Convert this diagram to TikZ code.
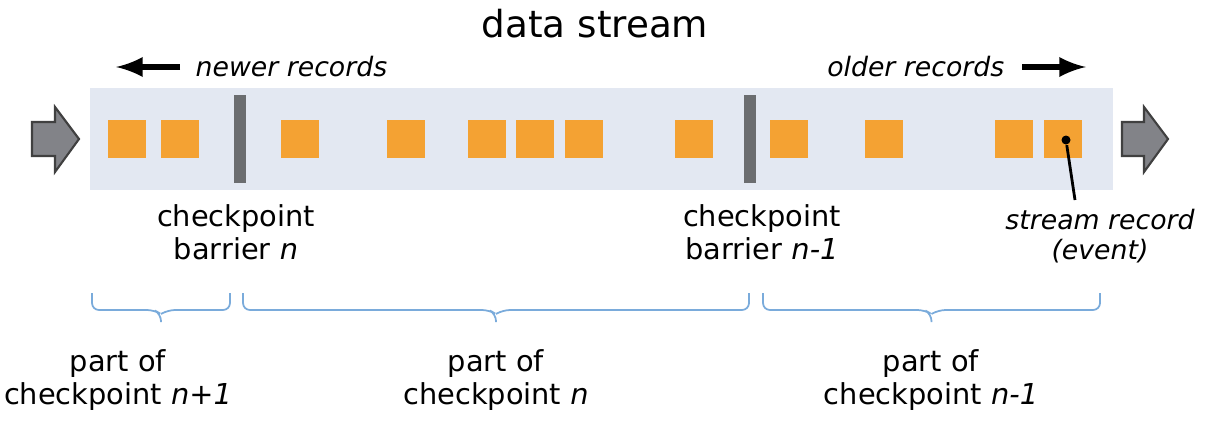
\documentclass[tikz,border=0pt]{standalone}
\usepackage{fontspec}
\setmainfont{DejaVu Sans}
\usetikzlibrary{positioning}
\usetikzlibrary{calc}
\definecolor{bandblue}{HTML}{E3E8F2}
\definecolor{recorange}{HTML}{F4A233}
\definecolor{bargray}{HTML}{6B6D70}
\definecolor{flowgray}{HTML}{828388}
\definecolor{bracecol}{HTML}{7AABDB}
\tikzset{rec/.style = {fill = recorange, inner sep = 0, minimum size = 0.38cm}}
\tikzset{barrier/.style = {fill = bargray, inner sep = 0, minimum width = 0.12cm, minimum height = 0.88cm}}
\tikzset{lbl/.style = {align = center, inner sep = 0, font = \fontsize{8.2}{9.3}\selectfont}}
\tikzset{ilbl/.style = {inner sep = 0, font = \fontsize{7.6}{9}\selectfont\itshape}}
\tikzset{flow/.style = {fill = flowgray, draw = black!75, line width = 0.6pt, line join = miter}}
\tikzset{part/.style = {draw = bracecol, line width = 0.5pt, rounded corners = 2pt}}
\def\drawpart(#1)(#2){%
    \coordinate (m) at ($(#1)!0.5!(#2)$);%
    \draw [part] (#1) -- ++(0, 17) -- ($(m) + (-7, 17)$) -- ($(m) + (0, 21)$) -- ($(m) + (0, 29)$);%
    \draw [part] (#2) -- ++(0, 17) -- ($(m) + (7, 17)$) -- ($(m) + (0, 21)$);%
}

\begin{document}
\begin{tikzpicture}[x = 0.01cm, y = -0.01cm]
    \useasboundingbox (0, 0) rectangle (1206, 421);
    \node [font = \fontsize{10.6}{12}\selectfont] (title) at (595, 24) {data stream};

    % direction of the stream
    \node [ilbl, anchor = west] (newer) at (195, 67) {newer records};
    \node [ilbl, anchor = east] (older) at (1005, 67) {older records};
    \draw [-latex, line width = 1.6pt] (newer.west) ++(-15, 0) -- ++(-64, 0);
    \draw [-latex, line width = 1.6pt] (older.east) ++(17, 0) -- ++(64, 0);

    \fill [bandblue] (90, 88) rectangle (1113, 190);
    \draw [flow] (32, 122) -- (55, 122) -- (55, 107) -- (79, 139)
        -- (55, 172) -- (55, 156) -- (32, 156) -- cycle;
    \draw [flow] (1122, 122) -- (1144, 122) -- (1144, 107) -- (1168, 139)
        -- (1144, 172) -- (1144, 156) -- (1122, 156) -- cycle;

    % records
    \foreach \x [count = \i] in {127, 180, 300, 406, 487, 535, 584, 694, 789, 884, 1014, 1063}
        \node [rec] (r\i) at (\x, 139) {};
    \node [barrier] (barn) at (240, 139) {};
    \node [barrier] (barnm) at (750, 139) {};

    \node [circle, fill, inner sep = 0, minimum size = 0.09cm] (dot) at (1066, 140) {};
    \node [ilbl, align = center, font = \fontsize{7.6}{8.6}\selectfont\itshape] (event) at (1100, 236)
        {stream record\\(event)};
    \draw [line width = 0.8pt] (dot) -- (1075, 200);

    \node [lbl] (lblbarn) at (236, 232) {checkpoint\\barrier \textit{n}};
    \node [lbl] (lblbarnm) at (762, 232) {checkpoint\\barrier \textit{n-1}};

    % parts of the checkpoints
    \coordinate (pa) at (92, 293);
    \coordinate (pb) at (230, 293);
    \coordinate (pc) at (243, 293);
    \coordinate (pd) at (749, 293);
    \coordinate (pe) at (763, 293);
    \coordinate (pf) at (1100, 293);
    \drawpart(pa)(pb)
    \drawpart(pc)(pd)
    \drawpart(pe)(pf)

    \node [lbl, font = \fontsize{8.2}{9.4}\selectfont] (partnp) at (118, 380) {part of\\checkpoint \textit{n+1}};
    \node [lbl, font = \fontsize{8.2}{9.4}\selectfont] (partn) at (496, 380) {part of\\checkpoint \textit{n}};
    \node [lbl, font = \fontsize{8.2}{9.4}\selectfont] (partnm) at (931, 380) {part of\\checkpoint \textit{n-1}};
\end{tikzpicture}
\end{document}
